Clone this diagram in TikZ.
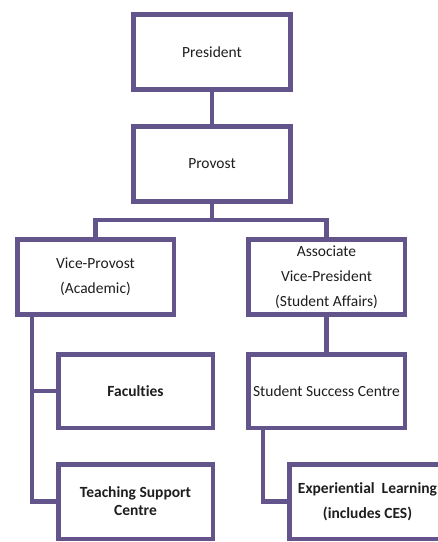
\documentclass[tikz,border=0pt]{standalone}
\usepackage{fontspec}
\setmainfont{Carlito}[Ligatures={NoCommon}]
\usetikzlibrary{positioning,calc}
\definecolor{orgline}{RGB}{100,84,140}
\definecolor{orgtext}{RGB}{30,30,30}
\tikzset{
  unitbox/.style={draw=orgline, line width=4.5pt, fill=white, align=center,
    text=orgtext, inner sep=0pt, minimum width=157pt, minimum height=75pt,
    font=\fontsize{15.5}{25}\selectfont},
  boldtext/.style={font=\fontsize{15.5}{25}\selectfont\bfseries},
  link/.style={draw=orgline, line width=4.5pt, line join=miter, line cap=rect}
}
\begin{document}
\begin{tikzpicture}[x=1pt, y=-1pt]
  \clip (0,0) rectangle (438,542);
  \fill[white] (0,0) rectangle (438,542);

  % anchor points for boxes and connectors
  \coordinate (bar) at (212,220);
  \coordinate (pres-c) at (212,52);
  \coordinate (prov-c) at (212,164);
  \coordinate (vp-c) at (95.5,277);
  \coordinate (avp-c) at (326.5,277);
  \coordinate (fac-c) at (135.5,391);
  \coordinate (tsc-c) at (135.5,501.5);
  \coordinate (ssc-c) at (326.5,391);
  \coordinate (el-c) at (367.5,501.5);
  \coordinate (vp-drop) at (32,277);
  \coordinate (ssc-drop) at (263,391);

  % connectors first, so the boxes sit on top of them
  \draw[link] (pres-c) -- (prov-c);
  \draw[link] (prov-c) -- (bar);
  \draw[link] (vp-c) |- (bar) -| (avp-c);
  \draw[link] (vp-drop) |- (tsc-c);
  \draw[link] (vp-drop |- fac-c) -- (fac-c);
  \draw[link] (avp-c) -- (ssc-c);
  \draw[link] (ssc-drop) |- (el-c);

  % boxes
  \node[unitbox] (pres) at (pres-c) {President};
  \node[unitbox] (prov) at (prov-c) {Provost};
  \node[unitbox, minimum width=156.5pt] (vp) at (vp-c) {Vice-Provost\\(Academic)};
  \node[unitbox, minimum width=156.5pt] (avp) at (avp-c) {Associate\\Vice-President\\(Student Affairs)};
  \node[unitbox, minimum width=154.5pt, minimum height=73.5pt, boldtext] (fac) at (fac-c) {Faculties};
  \node[unitbox, minimum width=154.5pt, minimum height=74.5pt,
        font=\fontsize{15.5}{18}\selectfont\bfseries] (tsc) at (tsc-c) {Teaching Support\\Centre};
  \node[unitbox, minimum width=156.5pt, minimum height=73.5pt] (ssc) at (ssc-c) {Student Success Centre};
  \node[unitbox, minimum width=156.5pt, minimum height=74.5pt, boldtext] (el) at (el-c)
        {Experiential~~Learning\\(includes CES)};
\end{tikzpicture}
\end{document}
